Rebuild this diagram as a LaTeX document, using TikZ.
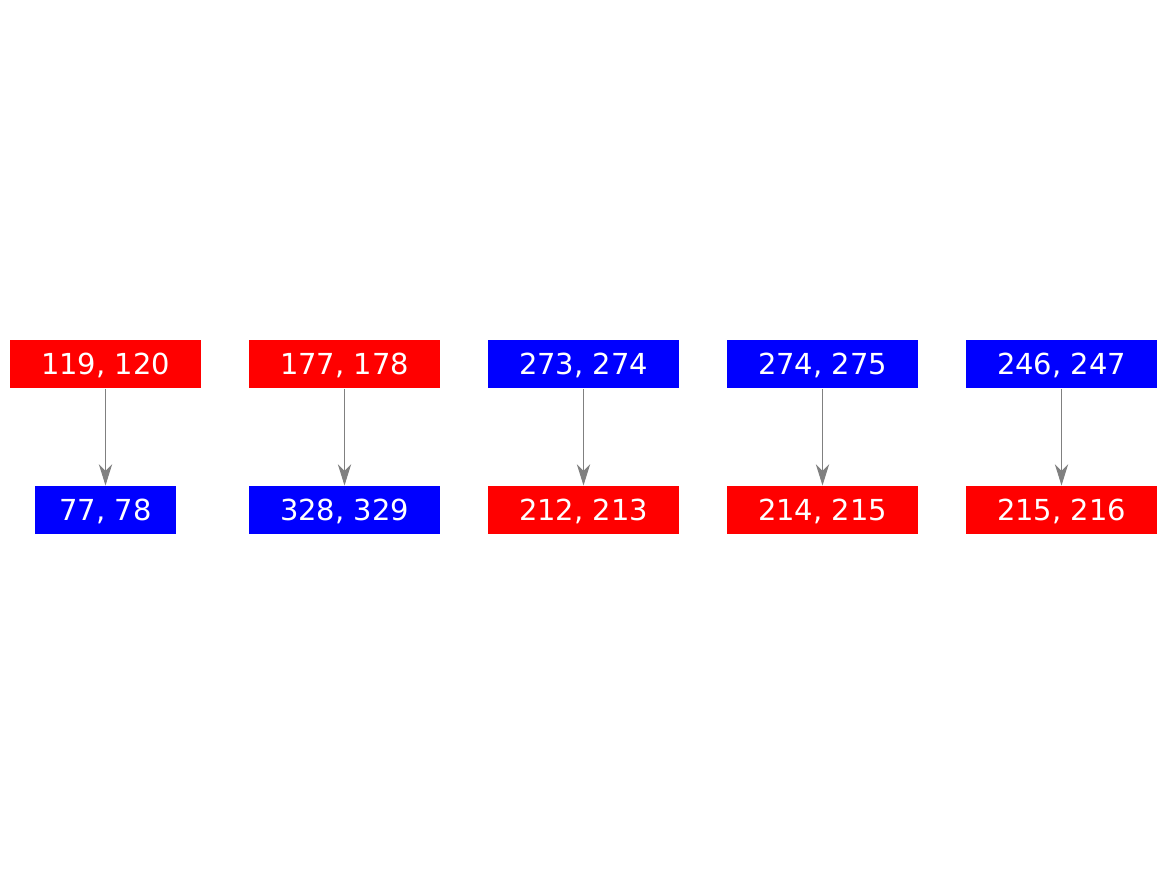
\documentclass[tikz,border=0pt]{standalone}
\usepackage{fontspec}
\setmainfont{DejaVu Sans}
\usetikzlibrary{arrows.meta,positioning}

\begin{document}
\begin{tikzpicture}[x=0.75pt, y=0.75pt, ->, >={Stealth[length=16pt,width=10pt,inset=5pt]}, line width=0.75pt, node distance=179.25pt]
\tikzstyle{every node}=[rectangle, inner sep=0pt, minimum height=36pt, minimum width=143.25pt, text depth=0pt, text=white, font=\fontsize{21.7}{26}\selectfont]
\tikzstyle{redbox}=[fill=red]
\tikzstyle{bluebox}=[fill=blue]
\useasboundingbox (0,0) rectangle (1167,-875);
\node[redbox]   (1) at (105.5,-364)  {119, 120};
\node[redbox]   (2)[right of=1]      {177, 178};
\node[bluebox]  (3)[right of=2]      {273, 274};
\node[bluebox]  (4)[right of=3]      {274, 275};
\node[bluebox]  (5)[right of=4]      {246, 247};
\node[bluebox]  (6)[below of=1, node distance=109.5pt, minimum width=105.75pt] {77, 78};
\node[bluebox]  (7)[below of=2, node distance=109.5pt] {328, 329};
\node[redbox]   (8)[below of=3, node distance=109.5pt] {212, 213};
\node[redbox]   (9)[below of=4, node distance=109.5pt] {214, 215};
\node[redbox]  (10)[below of=5, node distance=109.5pt] {215, 216};
\path
(1) edge[gray]  (6)
(2) edge[gray]  (7)
(3) edge[gray]  (8)
(4) edge[gray]  (9)
(5) edge[gray] (10);
\end{tikzpicture}
\end{document}
